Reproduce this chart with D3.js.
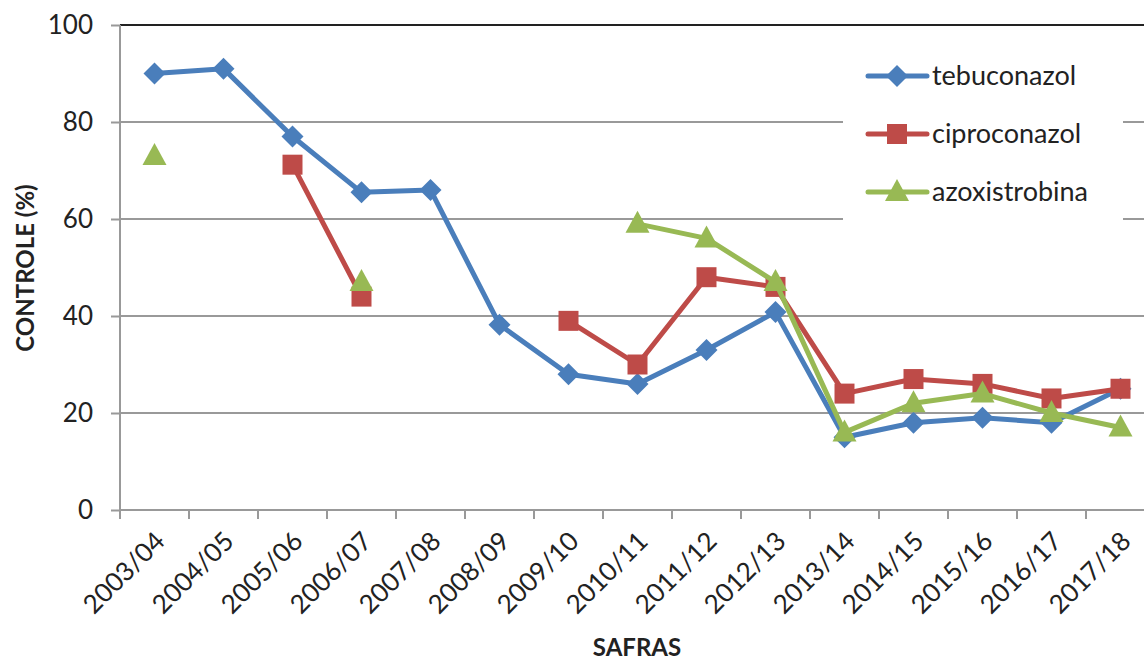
<!DOCTYPE html>
<html>
<head>
<meta charset="utf-8">
<script src="https://cdn.jsdelivr.net/npm/d3@7"></script>
<style>
  body { margin: 0; background: #fff; }
  .chart text { font-family: Lato, "Open Sans", sans-serif; fill: #222; }
  .grid line { stroke: #999; stroke-width: 2; }
  .axis path, .axis line { stroke: #999; stroke-width: 2; }
</style>
</head>
<body>
<svg class="chart"></svg>
<script>
var safras = ["2003/04","2004/05","2005/06","2006/07","2007/08","2008/09","2009/10","2010/11",
              "2011/12","2012/13","2013/14","2014/15","2015/16","2016/17","2017/18"];
var tebuconazol = [90, 91, 77, 65.5, 66, 38.2, 28, 26, 33, 40.8, 15, 18, 19, 18, 25];
var ciproconazol = [null, null, 71.2, 44, null, null, 39, 30, 48, 46, 24, 27, 26, 23, 25];
var azoxistrobina = [73, null, null, 47, null, null, null, 59, 56, 47, 16, 22, 24, 20, 17];
var yTicks = [0, 20, 40, 60, 80, 100];

var series = [
    {name: "tebuconazol", values: tebuconazol, color: "#4a7ebb", shape: "diamond"},
    {name: "ciproconazol", values: ciproconazol, color: "#be4b48", shape: "square"},
    {name: "azoxistrobina", values: azoxistrobina, color: "#98b954", shape: "triangle"}
];

var W = 1144, H = 663;
var plotLeft = 120, plotTop = 25, plotBottom = 510, band = 69;

var chart = d3.select(".chart").attr("width", W).attr("height", H);

var x = d3.scaleBand().domain(safras).range([plotLeft, plotLeft + band * safras.length]);
var y = d3.scaleLinear().domain([0, 100]).range([plotBottom, plotTop]);

// gridlines
var grid = chart.append("g").attr("class", "grid");
grid.selectAll("line")
    .data(yTicks.filter(function(d) { return d > 0; }))
    .enter().append("line")
    .attr("x1", plotLeft).attr("x2", W)
    .attr("y1", function(d) { return y(d); }).attr("y2", function(d) { return y(d); })
    .style("stroke", function(d) { return d === 100 ? "#222" : null; });

// axes
var yAxis = chart.append("g").attr("class", "axis")
    .attr("transform", "translate(" + plotLeft + ",0)")
    .call(d3.axisLeft(y).tickValues(yTicks).tickSize(9).tickPadding(18));
yAxis.select(".domain").attr("d", "M0," + plotTop + "V" + plotBottom);
yAxis.selectAll("text").style("font-size", "26px");

var xAxis = chart.append("g").attr("class", "axis")
    .attr("transform", "translate(0," + plotBottom + ")")
    .call(d3.axisBottom(x).tickSize(0).tickFormat(""));
xAxis.select(".domain").attr("d", "M" + plotLeft + ",0H" + W);
xAxis.selectAll(".bt")
    .data(safras.concat(["end"]))
    .enter().append("line").attr("class", "bt")
    .attr("x1", function(d, i) { return plotLeft + band * i; })
    .attr("x2", function(d, i) { return plotLeft + band * i; })
    .attr("y1", 0).attr("y2", 9);
xAxis.selectAll(".lab")
    .data(safras)
    .enter().append("text").attr("class", "lab")
    .attr("transform", function(d) {
        return "translate(" + (x(d) + x.bandwidth() / 2 - 1) + ",20) rotate(-45)";
    })
    .attr("text-anchor", "end")
    .attr("dy", "0.7em")
    .style("font-size", "26px")
    .text(function(d) { return d; });

// axis titles
chart.append("text")
    .attr("transform", "translate(34,268) rotate(-90)")
    .attr("text-anchor", "middle")
    .style("font-size", "24px").style("font-weight", "bold")
    .text("CONTROLE (%)");
chart.append("text")
    .attr("x", 637).attr("y", 656)
    .attr("text-anchor", "middle")
    .style("font-size", "24px").style("font-weight", "bold")
    .text("SAFRAS");

function markerPath(shape) {
    if (shape === "diamond") return "M0,-11L11,0L0,11L-11,0Z";
    if (shape === "square") return "M-10,-10H10V10H-10Z";
    return "M0,-13L12,9H-12Z";
}

var line = d3.line()
    .defined(function(d) { return d != null; })
    .x(function(d, i) { return x(safras[i]) + x.bandwidth() / 2; })
    .y(function(d) { return y(d); });

var plot = chart.append("g").attr("class", "series");
series.forEach(function(s) {
    var g = plot.append("g");
    g.append("path")
        .attr("d", line(s.values))
        .attr("fill", "none")
        .attr("stroke", s.color)
        .attr("stroke-width", 5)
        .attr("stroke-linejoin", "round");
    g.selectAll("path.m")
        .data(s.values.map(function(v, i) { return {v: v, i: i}; }).filter(function(d) { return d.v != null; }))
        .enter().append("path").attr("class", "m")
        .attr("transform", function(d) {
            return "translate(" + (x(safras[d.i]) + x.bandwidth() / 2) + "," + y(d.v) + ")";
        })
        .attr("d", markerPath(s.shape))
        .attr("fill", s.color);
});

// legend
var legend = chart.append("g").attr("class", "legend");
legend.append("rect")
    .attr("x", 843).attr("y", 45).attr("width", 280).attr("height", 190)
    .attr("fill", "#fff");
var item = legend.selectAll("g.item")
    .data(series)
    .enter().append("g").attr("class", "item")
    .attr("transform", function(d, i) { return "translate(0," + (76 + i * 58) + ")"; });
item.append("line")
    .attr("x1", 868).attr("x2", 927).attr("y1", 0).attr("y2", 0)
    .attr("stroke", function(d) { return d.color; })
    .attr("stroke-width", 5).attr("stroke-linecap", "round");
item.append("path")
    .attr("transform", "translate(897,0)")
    .attr("d", function(d) { return markerPath(d.shape); })
    .attr("fill", function(d) { return d.color; });
item.append("text")
    .attr("x", 932).attr("dy", "0.35em")
    .style("font-size", "27px")
    .text(function(d) { return d.name; });
</script>
</body>
</html>
